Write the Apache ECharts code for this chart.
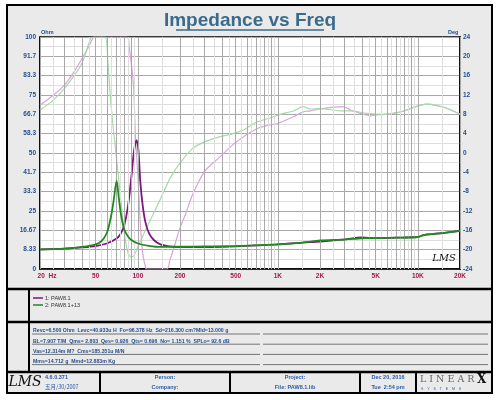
<!DOCTYPE html>
<html>
<head>
<meta charset="utf-8">
<script src="https://cdn.jsdelivr.net/npm/echarts@6/dist/echarts.min.js"></script>
<style>
  html, body { margin: 0; padding: 0; background: #fff; }
  #echart-root { width: 500px; height: 400px; }
</style>
</head>
<body>
<div id="echart-root"></div>
<script>
// impedance, curve 1 (PAW8.1)
const imp1Freq = [20, 30, 40, 50, 60, 70, 75, 80, 85, 90, 94, 98, 101, 104, 108, 113, 120, 130, 145, 160, 180, 200, 300, 500, 700, 1000, 1500, 2000, 3000, 4000, 5000, 7000, 10000, 11000, 15000, 20000];
const imp1Ohm = [8.5, 8.8, 9.3, 9.9, 11.0, 13.0, 15.0, 19.0, 27, 40, 51, 55.5, 51, 38, 28, 20.4, 15.5, 12.5, 10.6, 10.0, 9.6, 9.4, 9.4, 9.8, 10.2, 10.6, 11.4, 11.8, 12.8, 13.6, 13.3, 13.5, 13.8, 14.6, 15.5, 16.4];
// impedance, curve 2 (PAW8.1+13)
const imp2Freq = [20, 30, 40, 50, 55, 60, 64, 67, 70.5, 73, 76, 80, 85, 90, 100, 120, 145, 200, 300, 500, 700, 1000, 1500, 2000, 3000, 4000, 5000, 7000, 10000, 11000, 15000, 20000];
const imp2Ohm = [8.4, 8.8, 9.5, 10.6, 12.0, 15.5, 22, 29, 38, 31, 23, 17, 14, 12.5, 11.0, 10.0, 9.5, 9.6, 9.7, 9.9, 10.2, 10.6, 11.4, 12.3, 12.7, 13.2, 13.3, 13.5, 13.8, 14.6, 15.5, 16.4];
// phase, curve 1 (right axis, deg)
const ph1Freq = [20, 25, 30, 35, 40, 45, 49, 60, 75, 84, 87, 93, 96, 100, 104, 108, 114, 116, 161, 170, 180, 200, 220, 247, 300, 386, 505, 707, 870, 1000, 1290, 1520, 1700, 2000, 2350, 2900, 3300, 3900, 4600, 5100, 5800, 7300, 8300, 9700, 11500, 13700, 16300, 20000];
const ph1Deg = [9.9, 12, 14.1, 16.8, 19.6, 22.2, 24, 24, 24, 24, 21.7, 14.1, 3.7, -4.6, -14.3, -20.5, -23.9, -24, -24, -22, -19.8, -15.5, -12.5, -8.5, -3.8, -0.8, 2.3, 5, 5.8, 6.1, 7.5, 8.5, 8.7, 9.1, 9.4, 9.6, 8.9, 8.2, 7.7, 7.9, 8, 8.4, 8.9, 9.6, 10.1, 9.8, 9.2, 8];
// phase, curve 2
const ph2Freq = [20, 25, 30, 35, 40, 46, 48, 58, 61, 64, 68, 72.5, 76.6, 80.5, 85, 90, 94.5, 100, 118, 144, 170, 200, 247, 300, 386, 465, 570, 707, 870, 1040, 1290, 1520, 1700, 2000, 2900, 3300, 4300, 5800, 7300, 8300, 9700, 11500, 13700, 16300, 20000];
const ph2Deg = [8.9, 11, 13.4, 16, 18.6, 23.7, 24, 24, 18.9, 10.6, 3, -4.6, -11.5, -17, -20.7, -21.5, -21.1, -19.4, -14.9, -9.7, -5.2, -2.1, 1, 2.3, 3.4, 3.9, 4.8, 6.4, 7.2, 8, 8.7, 9.6, 9.1, 9.2, 8.7, 8.7, 8.2, 8, 8.4, 8.9, 9.6, 10.1, 9.8, 9.2, 8];

const leftTicks = ['0', '8.33', '16.67', '25', '33.3', '41.7', '50', '58.3', '66.7', '75', '83.3', '91.7', '100'];
const xLabelFreqs = [20, 50, 100, 200, 500, 1000, 2000, 5000, 10000, 20000];
const xLabelTexts = ['20  Hz', '50', '100', '200', '500', '1K', '2K', '5K', '10K', '20K'];

const legendNames = ['1: PAW8.1', '2: PAW8.1+13'];
const noteLines = [
  'Revc=6.500 Ohm  Levc=40.933u H  Fo=96.378 Hz  Sd=216.300 cm?Mld=13.000 g',
  'BL=7.907 T/M  Qms= 2.803  Qes= 0.926  Qts= 0.696  No= 1.151 %  SPLo= 92.6 dB',
  'Vas=12.314m M?  Cms=185.351u M/N',
  'Mms=14.712 g  Mmd=12.883m Kg'
];

const pairs = (xs, ys) => xs.map((x, i) => [x, ys[i]]);

const C_DARK_PURPLE = '#7d177d';
const C_GREEN = '#1f8a1f';
const C_LIGHT_PURPLE = '#d7a6d7';
const C_LIGHT_GREEN = '#a9d8a9';
const C_BLUE = '#24508f';
const C_XLAB = '#a3174f';

// vertical grid of the log axis
const gridLines = [];
for (let dec = 10; dec <= 10000; dec *= 10) {
  for (let n = 1; n <= 9.5; n += 0.5) {
    const f = n * dec;
    if (f < 20 || f > 20000) continue;
    const major = Number.isInteger(n);
    const li = xLabelFreqs.indexOf(f);
    gridLines.push({
      xAxis: f,
      lineStyle: { color: major ? '#a8a8a8' : '#dedede', width: 1, type: 'solid' },
      label: li >= 0 ? {
        show: true,
        position: 'start',
        formatter: xLabelTexts[li],
        color: C_XLAB,
        fontSize: 6.5,
        fontWeight: 'bold',
        fontFamily: 'Liberation Sans',
        distance: 4,
        offset: f === 20 ? [7, 0] : [0, 0]
      } : { show: false }
    });
  }
}

const myChart = echarts.init(document.getElementById('echart-root'));

const txt = (x, y, text, font, fill, align, extra) => Object.assign({
  type: 'text', z: 100,
  style: { x: x, y: y, text: text, font: font, fill: fill, textAlign: align || 'left', textVerticalAlign: 'middle' }
}, extra || {});
const ln = (x1, y1, x2, y2, w, c) => ({
  type: 'line', z: 100,
  shape: { x1: x1, y1: y1, x2: x2, y2: y2 },
  style: { stroke: c || '#000', lineWidth: w || 2 }
});

const graphics = [
  // panel backgrounds + frame
  { type: 'rect', z: -10, shape: { x: 7, y: 5, width: 485, height: 388 }, style: { fill: '#eaeaea' } },
  { type: 'rect', z: 100, shape: { x: 7, y: 5, width: 485, height: 388 }, style: { fill: 'none', stroke: '#000', lineWidth: 2 } },
  ln(7, 289, 492, 289, 2.5),
  ln(7, 322, 492, 322, 2.5),
  ln(7, 372, 492, 372, 2.5),
  ln(29, 289, 29, 372, 2),
  ln(100, 372, 100, 393, 2),
  ln(230, 372, 230, 393, 2),
  ln(360, 372, 360, 393, 2),
  ln(416, 372, 416, 393, 2),
  // title
  txt(250, 21, 'Impedance vs Freq', 'bold 19px "Liberation Sans"', '#3a6b8c', 'center'),
  ln(176, 30, 324, 30, 1.6, '#3a6b8c'),
  txt(41, 32, 'Ohm', 'bold 5.5px "Liberation Sans"', C_BLUE),
  txt(448, 32, 'Deg', 'bold 5.5px "Liberation Sans"', C_BLUE),
  txt(444, 258, 'LMS', 'italic 10px "DejaVu Serif"', '#111', 'center'),
  // map
  txt(18, 305, 'Map', 'bold 6px "Liberation Sans"', C_BLUE, 'center', { rotation: Math.PI / 2 }),
  ln(33, 298, 43, 298, 1.5, C_DARK_PURPLE),
  ln(33, 305, 43, 305, 1.5, C_GREEN),
  txt(45, 298, legendNames[0], '5.5px "Liberation Sans"', '#333'),
  txt(45, 305, legendNames[1], '5.5px "Liberation Sans"', '#333'),
  // notes
  txt(18, 347, 'Notes', 'bold 6px "Liberation Sans"', C_BLUE, 'center', { rotation: Math.PI / 2 })
];
noteLines.forEach((s, i) => {
  const y = 331 + i * 10.2;
  graphics.push(txt(33, y, s, 'bold 5.2px "Liberation Sans"', C_BLUE));
  graphics.push(ln(32, y + 3, 260, y + 3, 0.8, '#555'));
  graphics.push(ln(263, y + 3, 488, y + 3, 0.8, '#555'));
});
graphics.push(
  txt(25, 382, 'LMS', 'italic 14px "DejaVu Serif"', '#111', 'center'),
  txt(45, 377.5, '4.6.0.371', 'bold 5.5px "Liberation Sans"', '#2a5fa8'),
  txt(45, 387, '五月/30/2007', '5.5px "Noto Sans CJK SC"', '#2a5fa8'),
  txt(165, 377.5, 'Person:', 'bold 5.5px "Liberation Sans"', '#2a5fa8', 'center'),
  txt(165, 387, 'Company:', 'bold 5.5px "Liberation Sans"', '#2a5fa8', 'center'),
  txt(295, 377.5, 'Project:', 'bold 5.5px "Liberation Sans"', '#2a5fa8', 'center'),
  txt(295, 387, 'File: PAW8.1.lib', 'bold 5.5px "Liberation Sans"', '#2a5fa8', 'center'),
  txt(388, 377.5, 'Dec 20, 2016', 'bold 5.5px "Liberation Sans"', '#2a5fa8', 'center'),
  txt(388, 387, 'Tue  2:54 pm', 'bold 5.5px "Liberation Sans"', '#2a5fa8', 'center'),
  txt(420, 380, 'L I N E A R', '9.5px "DejaVu Serif"', '#666'),
  txt(477, 380, 'X', 'bold 12px "DejaVu Serif"', '#111'),
  txt(421, 389, 'S    Y    S    T    E    M    S', '3.5px "Liberation Sans"', '#2a5fa8')
);

const option = {
  animation: false,
  backgroundColor: 'transparent',
  grid: {
    left: 40, top: 37, width: 420, height: 232,
    show: true, backgroundColor: '#fff', borderColor: '#000', borderWidth: 1.5
  },
  xAxis: {
    type: 'log', logBase: 10, min: 20, max: 20000,
    axisLine: { show: true, lineStyle: { color: '#000', width: 1.5 } },
    axisTick: { show: false },
    axisLabel: { show: false },
    splitLine: { show: false }
  },
  yAxis: [
    {
      type: 'value', min: 0, max: 100, interval: 100 / 12,
      axisLine: { show: true, lineStyle: { color: '#000', width: 1.5 } },
      axisTick: { show: false },
      axisLabel: {
        margin: 4, color: C_BLUE, fontSize: 6.5, fontWeight: 'bold', fontFamily: 'Liberation Sans',
        formatter: (v) => leftTicks[Math.round(v * 12 / 100)]
      },
      splitLine: { show: true, lineStyle: { color: '#a8a8a8', width: 1 } },
      minorTick: { show: false, splitNumber: 2 },
      minorSplitLine: { show: true, lineStyle: { color: '#dedede', width: 1 } }
    },
    {
      type: 'value', min: -24, max: 24, interval: 4,
      axisLine: { show: true, lineStyle: { color: '#000', width: 1.5 } },
      axisTick: { show: false },
      axisLabel: { margin: 3, color: C_BLUE, fontSize: 6.5, fontWeight: 'bold', fontFamily: 'Liberation Sans' },
      splitLine: { show: false }
    }
  ],
  graphic: graphics,
  series: [
    {
      type: 'line', name: 'grid', data: [], z: 1, silent: true,
      markLine: { silent: true, symbol: 'none', animation: false, data: gridLines }
    },
    {
      type: 'line', name: 'phase 1', yAxisIndex: 1, data: pairs(ph1Freq, ph1Deg),
      showSymbol: false, smooth: 0.3, z: 3,
      lineStyle: { color: C_LIGHT_PURPLE, width: 1.2 }
    },
    {
      type: 'line', name: 'phase 2', yAxisIndex: 1, data: pairs(ph2Freq, ph2Deg),
      showSymbol: false, smooth: 0.3, z: 3,
      lineStyle: { color: C_LIGHT_GREEN, width: 1.2 }
    },
    {
      type: 'line', name: legendNames[0], data: pairs(imp1Freq, imp1Ohm),
      showSymbol: false, smooth: 0.3, z: 4,
      lineStyle: { color: C_DARK_PURPLE, width: 1.8 }
    },
    {
      type: 'line', name: legendNames[1], data: pairs(imp2Freq, imp2Ohm),
      showSymbol: false, smooth: 0.3, z: 5,
      lineStyle: { color: C_GREEN, width: 1.8 }
    }
  ]
};

myChart.setOption(option);
</script>
</body>
</html>
